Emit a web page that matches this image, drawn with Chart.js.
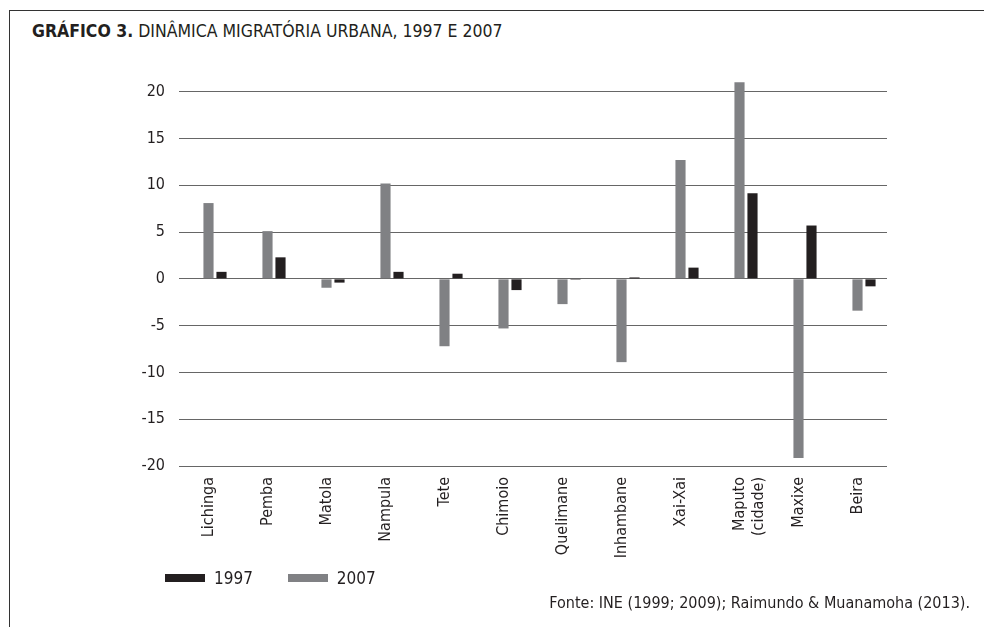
<!DOCTYPE html>
<html>
<head>
<meta charset="utf-8">
<script src="https://cdn.jsdelivr.net/npm/chart.js@4/dist/chart.umd.min.js"></script>
<style>
  html, body { margin:0; padding:0; background:#fff; }
  body { width:984px; height:627px; position:relative; overflow:hidden;
         font-family:"Liberation Sans Narrow","DejaVu Sans Condensed",sans-serif; color:#231f20; }
  .frame { position:absolute; left:9px; top:10px; right:-2px; bottom:-2px;
           border-top:1px solid #333; border-left:1px solid #333; }
  .title { position:absolute; left:32px; top:21px; font-size:17.5px; white-space:nowrap; }
  .title b { font-weight:bold; }
  .legend { position:absolute; top:568px; left:165px; font-size:17px; white-space:nowrap; }
  .legend span.item { display:inline-block; margin-right:30px; }
  .legend i { display:inline-block; width:40px; height:8px; vertical-align:middle; margin-right:9px; position:relative; top:-1px; }
  .source { position:absolute; right:14px; top:593px; font-size:16px; white-space:nowrap; }
  #chart { position:absolute; left:0; top:0; }
</style>
</head>
<body>
<div class="frame"></div>
<div class="title"><b>GRÁFICO 3.</b> DINÂMICA MIGRATÓRIA URBANA, 1997 E 2007</div>
<canvas id="chart" width="984" height="627"></canvas>
<div class="legend">
  <span class="item"><i style="background:#231f20"></i>1997</span>
  <span class="item"><i style="background:#808184"></i>2007</span>
</div>
<div class="source">Fonte: INE (1999; 2009); Raimundo &amp; Muanamoha (2013).</div>

<script>
var CITIES = ['Lichinga','Pemba','Matola','Nampula','Tete','Chimoio','Quelimane','Inhambane','Xai-Xai',['Maputo','(cidade)'],'Maxixe','Beira'];
var V1997 = [0.75, 2.3, -0.4, 0.75, 0.55, -1.2, -0.1, 0.15, 1.2, 9.15, 5.7, -0.8];
var V2007 = [8.1, 5.1, -0.95, 10.2, -7.2, -5.3, -2.7, -8.9, 12.7, 21.0, -19.15, -3.4];
var Y_TICKS = [-20,-15,-10,-5,0,5,10,15,20];

var FONT = '"Liberation Sans Narrow","DejaVu Sans Condensed",sans-serif';

function initChart(){
  var ctx = document.getElementById('chart').getContext('2d');
  var blank = [];
  for(var i=0;i<CITIES.length;i++){ blank.push(null); }
  new Chart(ctx, {
    type: 'bar',
    data: {
      labels: CITIES,
      datasets: [
        // empty slot so the pair sits right of the category centre, like the original
        { label:'', data: blank, backgroundColor:'rgba(0,0,0,0)' },
        { label:'2007', data: V2007, backgroundColor:'#808184' },
        { label:'1997', data: V1997, backgroundColor:'#231f20' }
      ]
    },
    options: {
      responsive: false,
      animation: false,
      categoryPercentage: 0.661,
      barPercentage: 0.78,
      layout: { padding: { left:119, right:97, top:73, bottom:61 } },
      plugins: { legend: { display:false }, tooltip: { enabled:false } },
      scales: {
        x: {
          grid: { display:false },
          border: { display:false },
          ticks: { color:'#231f20', font:{ family:FONT, size:16 }, minRotation:90, maxRotation:90, padding:3, autoSkip:false },
          afterFit: function(s){ s.height = 100; }
        },
        y: {
          min: -20, max: 22,
          border: { display:false },
          grid: { color:'#666', lineWidth:1, drawTicks:false },
          ticks: { color:'#231f20', font:{ family:FONT, size:16 }, padding:14, stepSize:5 },
          afterBuildTicks: function(s){
            s.ticks = Y_TICKS.map(function(v){ return { value:v }; });
          },
          afterFit: function(s){ s.width = 60; }
        }
      }
    }
  });
}

window.addEventListener('load', initChart);
</script>
</body>
</html>
